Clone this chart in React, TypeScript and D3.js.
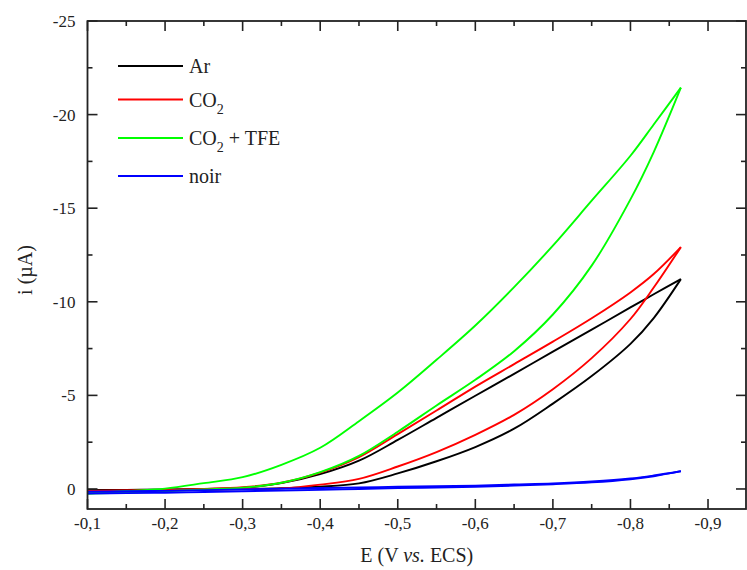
import React from "react";
import * as d3 from "d3";

// Potential grid (V vs. ECS)
const E_GRID = [-0.1, -0.15, -0.2, -0.25, -0.3, -0.35, -0.4, -0.45, -0.5, -0.55, -0.6, -0.65, -0.7, -0.75, -0.8, -0.83, -0.865];

// Current (µA) — lower branch (smaller |i|) and upper branch (larger |i|)
const arLower = [0.06, 0.06, 0.05, 0.04, 0.0, -0.04, -0.12, -0.3, -0.83, -1.48, -2.24, -3.22, -4.56, -6.03, -7.75, -9.13, -11.21];
const arUpper = [0.06, 0.05, 0.03, 0.0, -0.06, -0.31, -0.79, -1.51, -2.62, -3.8, -4.98, -6.15, -7.34, -8.51, -9.7, -10.4, -11.21];

const co2Lower = [0.1, 0.09, 0.06, 0.03, 0.0, -0.03, -0.23, -0.54, -1.2, -1.97, -2.89, -3.96, -5.33, -6.99, -9.08, -10.76, -12.92];
const co2Upper = [0.1, 0.08, 0.05, 0.0, -0.09, -0.33, -0.87, -1.7, -2.93, -4.19, -5.47, -6.67, -7.87, -9.12, -10.5, -11.48, -12.92];

const tfeLower = [0.24, 0.19, 0.12, 0.03, -0.07, -0.33, -0.9, -1.77, -3.06, -4.46, -5.83, -7.36, -9.32, -11.93, -15.47, -18.0, -21.44];
const tfeUpper = [0.24, 0.11, -0.02, -0.31, -0.63, -1.29, -2.2, -3.62, -5.15, -6.9, -8.73, -10.78, -13.0, -15.4, -17.8, -19.47, -21.44];

const noirLower = [0.25, 0.22, 0.2, 0.16, 0.12, 0.08, 0.05, 0.0, -0.05, -0.08, -0.12, -0.18, -0.25, -0.35, -0.52, -0.68, -0.95];
const noirUpper = [0.15, 0.12, 0.1, 0.06, 0.02, -0.02, -0.05, -0.08, -0.12, -0.15, -0.18, -0.24, -0.3, -0.4, -0.56, -0.72, -0.95];

const seriesNames = ["Ar", "CO2", "CO2 + TFE", "noir"];
const seriesColors = ["#000000", "#ff0000", "#00ff00", "#0000ff"];
const seriesLower = [arLower, co2Lower, tfeLower, noirLower];
const seriesUpper = [arUpper, co2Upper, tfeUpper, noirUpper];

const xMajorTicks = [-0.1, -0.2, -0.3, -0.4, -0.5, -0.6, -0.7, -0.8, -0.9];
const xMinorTicks = [-0.15, -0.25, -0.35, -0.45, -0.55, -0.65, -0.75, -0.85];
const yMajorTicks = [-25, -20, -15, -10, -5, 0];
const yMinorTicks = [-22.5, -17.5, -12.5, -7.5, -2.5];

const FONT = "'Liberation Serif', 'DejaVu Serif', serif";

export default function App() {
  const W = 747;
  const H = 570;
  const left = 87.5, right = 746, top = 21, bottom = 509;
  const x = d3.scaleLinear().domain([-0.1, -0.95]).range([left, 746.8]);
  const y = d3.scaleLinear().domain([1.07, -25]).range([bottom, top]);

  const line = d3
    .line<[number, number]>()
    .x((d) => x(d[0]))
    .y((d) => y(d[1]))
    .curve(d3.curveCatmullRom.alpha(0.5));

  const fmt = (v: number) => d3.format(".1f")(v).replace(".", ",").replace("−", "-");

  const major = 10, minor = 5;

  return (
    <svg
      width={W}
      height={H}
      style={{ position: "absolute", left: 0, top: 0, display: "block", background: "#fff" }}
    >
      {/* curves */}
      {seriesNames.map((name, k) => {
        const lo = E_GRID.map((e, i) => [e, seriesLower[k][i]] as [number, number]);
        const up = E_GRID.map((e, i) => [e, seriesUpper[k][i]] as [number, number]);
        return (
          <g key={name}>
            <path d={line(lo) || ""} fill="none" stroke={seriesColors[k]} strokeWidth={1.9} />
            <path d={line(up) || ""} fill="none" stroke={seriesColors[k]} strokeWidth={1.9} />
          </g>
        );
      })}

      {/* frame */}
      <rect x={left} y={top} width={right - left} height={bottom - top} fill="none" stroke="#222" strokeWidth={1.8} />

      {/* x ticks */}
      {xMajorTicks.map((t) => (
        <g key={"xM" + t}>
          <line x1={x(t)} x2={x(t)} y1={bottom} y2={bottom - major} stroke="#222" strokeWidth={1.6} />
          <line x1={x(t)} x2={x(t)} y1={top} y2={top + major} stroke="#222" strokeWidth={1.6} />
          <text x={x(t)} y={bottom + 20} textAnchor="middle" fontFamily={FONT} fontSize={17} fill="#222">
            {fmt(t)}
          </text>
        </g>
      ))}
      {xMinorTicks.map((t) => (
        <g key={"xm" + t}>
          <line x1={x(t)} x2={x(t)} y1={bottom} y2={bottom - minor} stroke="#222" strokeWidth={1.6} />
          <line x1={x(t)} x2={x(t)} y1={top} y2={top + minor} stroke="#222" strokeWidth={1.6} />
        </g>
      ))}

      {/* y ticks */}
      {yMajorTicks.map((t) => (
        <g key={"yM" + t}>
          <line x1={left} x2={left + major} y1={y(t)} y2={y(t)} stroke="#222" strokeWidth={1.6} />
          <line x1={right} x2={right - major} y1={y(t)} y2={y(t)} stroke="#222" strokeWidth={1.6} />
          <text x={left - 12} y={y(t)} dy="0.35em" textAnchor="end" fontFamily={FONT} fontSize={17} fill="#222">
            {String(t)}
          </text>
        </g>
      ))}
      {yMinorTicks.map((t) => (
        <g key={"ym" + t}>
          <line x1={left} x2={left + minor} y1={y(t)} y2={y(t)} stroke="#222" strokeWidth={1.6} />
          <line x1={right} x2={right - minor} y1={y(t)} y2={y(t)} stroke="#222" strokeWidth={1.6} />
        </g>
      ))}

      {/* axis titles */}
      <text x={(left + right) / 2} y={562} textAnchor="middle" fontFamily={FONT} fontSize={20} fill="#222">
        E (V <tspan fontStyle="italic">vs.</tspan> ECS)
      </text>
      <text
        transform={`translate(32, ${270}) rotate(-90)`}
        textAnchor="middle"
        fontFamily={FONT}
        fontSize={20}
        fill="#222"
      >
        i (µA)
      </text>

      {/* legend */}
      {seriesNames.map((name, k) => {
        const ly = [66, 99.5, 138, 176][k];
        return (
          <g key={"leg" + name}>
            <line x1={118} x2={183} y1={ly} y2={ly} stroke={seriesColors[k]} strokeWidth={1.8} />
            <text x={189} y={ly + 7} fontFamily={FONT} fontSize={20} fill="#222">
              {name === "CO2" ? (
                <>
                  CO<tspan fontSize={14} dy={7}>2</tspan>
                </>
              ) : name === "CO2 + TFE" ? (
                <>
                  CO<tspan fontSize={14} dy={7}>2</tspan>
                  <tspan dy={-7}> + TFE</tspan>
                </>
              ) : (
                name
              )}
            </text>
          </g>
        );
      })}
    </svg>
  );
}
